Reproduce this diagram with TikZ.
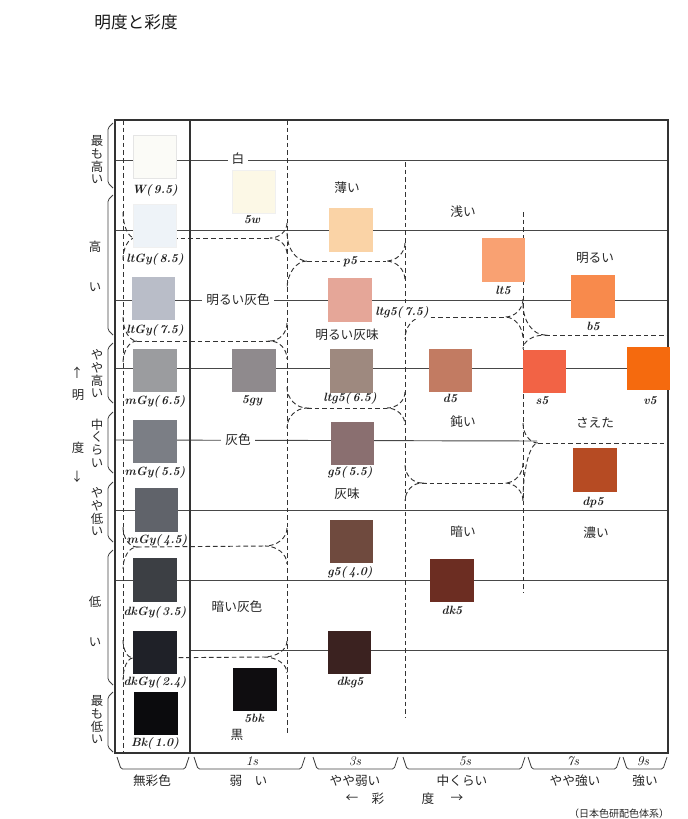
\documentclass[tikz,border=0pt]{standalone}
\usepackage{fontspec}
\newfontfamily\jp{Noto Sans CJK JP}
\definecolor{cW}{HTML}{FBFBF7}
\definecolor{cLa}{HTML}{EEF3F8}
\definecolor{cLb}{HTML}{B9BDC8}
\definecolor{cMa}{HTML}{9B9C9F}
\definecolor{cMb}{HTML}{7B7E85}
\definecolor{cMc}{HTML}{60636A}
\definecolor{cDa}{HTML}{3C3F44}
\definecolor{cDb}{HTML}{1F2128}
\definecolor{cBk}{HTML}{0B0B0D}
\definecolor{cw}{HTML}{FCF8E6}
\definecolor{cgy}{HTML}{8F8A8D}
\definecolor{cbk}{HTML}{0F0D10}
\definecolor{cp}{HTML}{FAD3A6}
\definecolor{cltga}{HTML}{E5A698}
\definecolor{cltgb}{HTML}{9E897F}
\definecolor{cga}{HTML}{8A6F70}
\definecolor{cgb}{HTML}{6F4A3E}
\definecolor{cdkg}{HTML}{3B2220}
\definecolor{clt}{HTML}{F9A172}
\definecolor{cd}{HTML}{C27B62}
\definecolor{cdk}{HTML}{6C2D22}
\definecolor{cs}{HTML}{F26345}
\definecolor{cb}{HTML}{F88A4C}
\definecolor{cdp}{HTML}{B64B23}
\definecolor{cv}{HTML}{F56A0E}
\newcommand\mycusp[5]{\draw[dl] (#1,#2-#4) .. controls (#1,#2-0.45*#4) and ({#1+0.45*(#3)},#2) .. ({#1+(#3)},#2) .. controls ({#1+0.45*(#3)},#2) and (#1,#2+0.45*#5) .. (#1,#2+#5);}
\tikzset{
  sl/.style={draw=black!72, line width=0.7pt},
  fr/.style={draw=black!80, line width=0.9pt},
  dl/.style={draw=black!80, line width=0.7pt, dash pattern=on 3.5pt off 2.2pt},
  chip/.style={minimum size=32.5pt, inner sep=0pt, outer sep=0pt},
  lab/.style={font=\fontsize{9}{10}\selectfont\bfseries\itshape, inner sep=1pt, text=black!88},
  slab/.style={font=\fontsize{10}{11}\selectfont\itshape, inner sep=1pt, text=black!88},
  jl/.style={font=\jp\fontsize{9.5}{11}\selectfont, inner sep=1pt, text=black!85},
  gap/.style={fill=white, inner sep=3pt},
  vt/.style={font=\jp\fontsize{9.3}{9.5}\selectfont, align=center, inner sep=0pt, text=black!85},
  brk/.style={draw=black!75, line width=0.6pt, rounded corners=1.2pt},
}
\begin{document}
\begin{tikzpicture}[x=0.75pt,y=-0.75pt]
\useasboundingbox (0,0) rectangle (688,819);
% title
\node[font=\jp\fontsize{12.5}{14}\selectfont, text=black!90] (title) at (136,22) {明度と彩度};
% solid brightness lines
\draw[sl] (115,160) -- (668,160);
\draw[sl] (115,230) -- (668,230);
\draw[sl] (115,300) -- (668,300);
\draw[sl] (115,368) -- (668,368);
\draw[sl] (115,440) -- (537,441);
\draw[sl] (115,510) -- (668,510);
\draw[sl] (115,580) -- (668,580);
\draw[sl] (190,650) -- (668,650);
% frame
\draw[fr] (115,120) rectangle (668,753);
\draw[fr] (190,120) -- (190,753);
% dashed verticals
\draw[dl] (123,120) -- (123,753);
\draw[dl] (287,120) -- (287,733);
\draw[dl] (405,162) -- (405,718);
\draw[dl] (523,212) -- (523,593);
% junctions
\mycusp{123}{238}{12}{26}{22}
\mycusp{287}{238}{-17}{15}{16}
\draw[dl] (135,238) -- (270,238);
\mycusp{123}{341}{14}{24}{22}
\mycusp{287}{341}{-17}{18}{18}
\draw[dl] (137,341) -- (270,341);
\mycusp{123}{547}{14}{20}{22}
\mycusp{287}{546}{-22}{18}{18}
\draw[dl] (137,547) -- (265,546);
\mycusp{123}{658}{10}{18}{22}
\mycusp{287}{657}{-23}{16}{16}
\draw[dl] (133,658) -- (264,657);
\mycusp{287}{261}{20}{28}{28}
\mycusp{405}{261}{-19}{18}{19}
\draw[dl] (307,261) -- (386,261);
\mycusp{287}{408}{20}{21}{20}
\mycusp{405}{408}{-18}{16}{17}
\draw[dl] (307,408) -- (387,408);
\draw[dl] (423,317) .. controls (413,317) and (405,327) .. (405,339);
\mycusp{523}{317}{-18}{18}{22}
\draw[dl] (423,317) -- (505,317);
\mycusp{405}{483}{17}{18}{18}
\mycusp{523}{483}{-18}{20}{18}
\draw[dl] (422,483) -- (505,483);
\mycusp{523}{335}{22}{31}{14}
\draw[dl] (545,335) -- (668,335);
\mycusp{523}{443}{15}{20}{58}
\draw[dl] (538,443) -- (668,443);
% chips
\node[chip, fill=cW, draw=black!10] (W) at (155,156.5) {};
\node[chip, fill=cLa, draw=black!6] (La) at (155,226) {};
\node[chip, fill=cLb] (Lb) at (153.5,298.5) {};
\node[chip, fill=cMa] (Ma) at (155,370.5) {};
\node[chip, fill=cMb] (Mb) at (155,441.5) {};
\node[chip, fill=cMc] (Mc) at (156.5,510) {};
\node[chip, fill=cDa] (Da) at (155,580) {};
\node[chip, fill=cDb] (Db) at (155,652.5) {};
\node[chip, fill=cBk] (Bk) at (156,713.5) {};
\node[chip, fill=cw, draw=black!6] (w5) at (253.5,191.5) {};
\node[chip, fill=cgy] (gy5) at (254,370.5) {};
\node[chip, fill=cbk] (bk5) at (255,689.5) {};
\node[chip, fill=cp] (p5) at (351,230) {};
\node[chip, fill=cltga] (ltga) at (350,300) {};
\node[chip, fill=cltgb] (ltgb) at (351.5,371) {};
\node[chip, fill=cga] (ga) at (352.5,443.5) {};
\node[chip, fill=cgb] (gb) at (351.5,541.5) {};
\node[chip, fill=cdkg] (dkg) at (349.5,652.5) {};
\node[chip, fill=clt] (lt5) at (503.5,260) {};
\node[chip, fill=cd] (d5) at (450.5,370.5) {};
\node[chip, fill=cdk] (dk5) at (452,580.5) {};
\node[chip, fill=cs] (s5) at (544.5,371.5) {};
\node[chip, fill=cb] (b5) at (593,296.5) {};
\node[chip, fill=cdp] (dp5) at (595,470) {};
\node[chip, fill=cv] (v5) at (648.5,368.5) {};
% chip labels
\node[lab] (tW) at (155,190) {W(\,9.5)};
\node[lab] (tLa) at (155,259) {ltGy(\,8.5)};
\node[lab] (tLb) at (155,330) {ltGy(\,7.5)};
\node[lab] (tMa) at (155,401) {mGy(\,6.5)};
\node[lab] (tMb) at (155,472) {mGy(\,5.5)};
\node[lab] (tMc) at (157,540) {mGy(\,4.5)};
\node[lab] (tDa) at (155,612) {dkGy(\,3.5)};
\node[lab] (tDb) at (155,682) {dkGy(\,2.4)};
\node[lab] (tBk) at (155,743) {Bk(\,1.0)};
\node[lab] (tw5) at (252,220) {5w};
\node[lab] (tgy5) at (252,401) {5gy};
\node[lab] (tbk5) at (254,718) {5bk};
\node[lab, fill=white, inner sep=2pt] (tp5) at (350,262) {p5};
\node[lab, fill=white, inner sep=1pt] (tltga) at (402,312) {ltg5(\,7.5)};
\node[lab] (tltgb) at (350,398) {ltg5(\,6.5)};
\node[lab] (tga) at (350,472) {g5(\,5.5)};
\node[lab] (tgb) at (350,572) {g5(\,4.0)};
\node[lab] (tdkg) at (350,683) {dkg5};
\node[lab] (tlt5) at (503,290) {lt5};
\node[lab] (td5) at (450,398) {d5};
\node[lab] (tdk5) at (452,610) {dk5};
\node[lab] (ts5) at (542,401) {s5};
\node[lab] (tb5) at (593,326) {b5};
\node[lab] (tdp5) at (593,502) {dp5};
\node[lab] (tv5) at (650,401) {v5};
% tone names
\node[jl, gap] (nW) at (238,159) {白};
\node[jl, gap] (nLG) at (238,300) {明るい灰色};
\node[jl, gap] (nG) at (238,440) {灰色};
\node[jl] (nDG) at (237,607) {暗い灰色};
\node[jl] (nBk) at (237,735) {黒};
\node[jl] (np) at (347,188) {薄い};
\node[jl] (nltg) at (347,335) {明るい灰味};
\node[jl] (ng) at (347,494) {灰味};
\node[jl] (nlt) at (463,212) {浅い};
\node[jl] (nd) at (463,422) {鈍い};
\node[jl] (ndk) at (463,532) {暗い};
\node[jl] (nb) at (595,258) {明るい};
\node[jl] (ns) at (595,423) {さえた};
\node[jl] (ndp) at (596,533) {濃い};
% left brackets
\foreach \a/\b in {123/188,195/335,343/403,412/473,482/542,550/685,692/752}
  \draw[brk] (113,\a) -- (108,\a+5) -- (108,\b-5) -- (113,\b);
\node[vt] (v1) at (97,160) {最\\も\\高\\い};
\node[vt] (v2a) at (95,247) {高};
\node[vt] (v2b) at (95,287) {い};
\node[vt] (v3) at (97,374) {や\\や\\高\\い};
\node[vt] (v4) at (97,443) {中\\く\\ら\\い};
\node[vt] (v5) at (97,512) {や\\や\\低\\い};
\node[vt] (v6a) at (95,602) {低};
\node[vt] (v6b) at (95,642) {い};
\node[vt] (v7) at (97,720) {最\\も\\低\\い};
\node[vt] (ar1) at (77,373) {↑};
\node[vt] (ak1) at (78,395) {明};
\node[vt] (ak2) at (78,448) {度};
\node[vt] (ar2) at (77,477) {↓};
% bottom brackets
\foreach \a/\b in {117/189,194/305,313/398,403/525,528/620,623/667}
  \draw[brk] (\a,757) -- (\a+4,769) -- (\b-4,769) -- (\b,757);
\node[slab] (s1) at (252,761) {1s};
\node[slab] (s3) at (355,761) {3s};
\node[slab] (s5l) at (465,761) {5s};
\node[slab] (s7) at (573,761) {7s};
\node[slab] (s9) at (643,761) {9s};
\node[jl] (c0) at (152,781) {無彩色};
\node[jl] (c1a) at (236,781) {弱};
\node[jl] (c1b) at (261,781) {い};
\node[jl] (c3) at (355,781) {やや弱い};
\node[jl] (c5) at (462,781) {中くらい};
\node[jl] (c7) at (575,781) {やや強い};
\node[jl] (c9) at (645,781) {強い};
\node[jl] (ca1) at (352,799) {←};
\node[jl] (ca2) at (378,799) {彩};
\node[jl] (ca3) at (428,799) {度};
\node[jl] (ca4) at (457,799) {→};
\node[font=\jp\fontsize{7.5}{9}\selectfont, text=black!85, inner sep=0pt] (src) at (619,814) {（日本色研配色体系）};
\end{tikzpicture}
\end{document}
